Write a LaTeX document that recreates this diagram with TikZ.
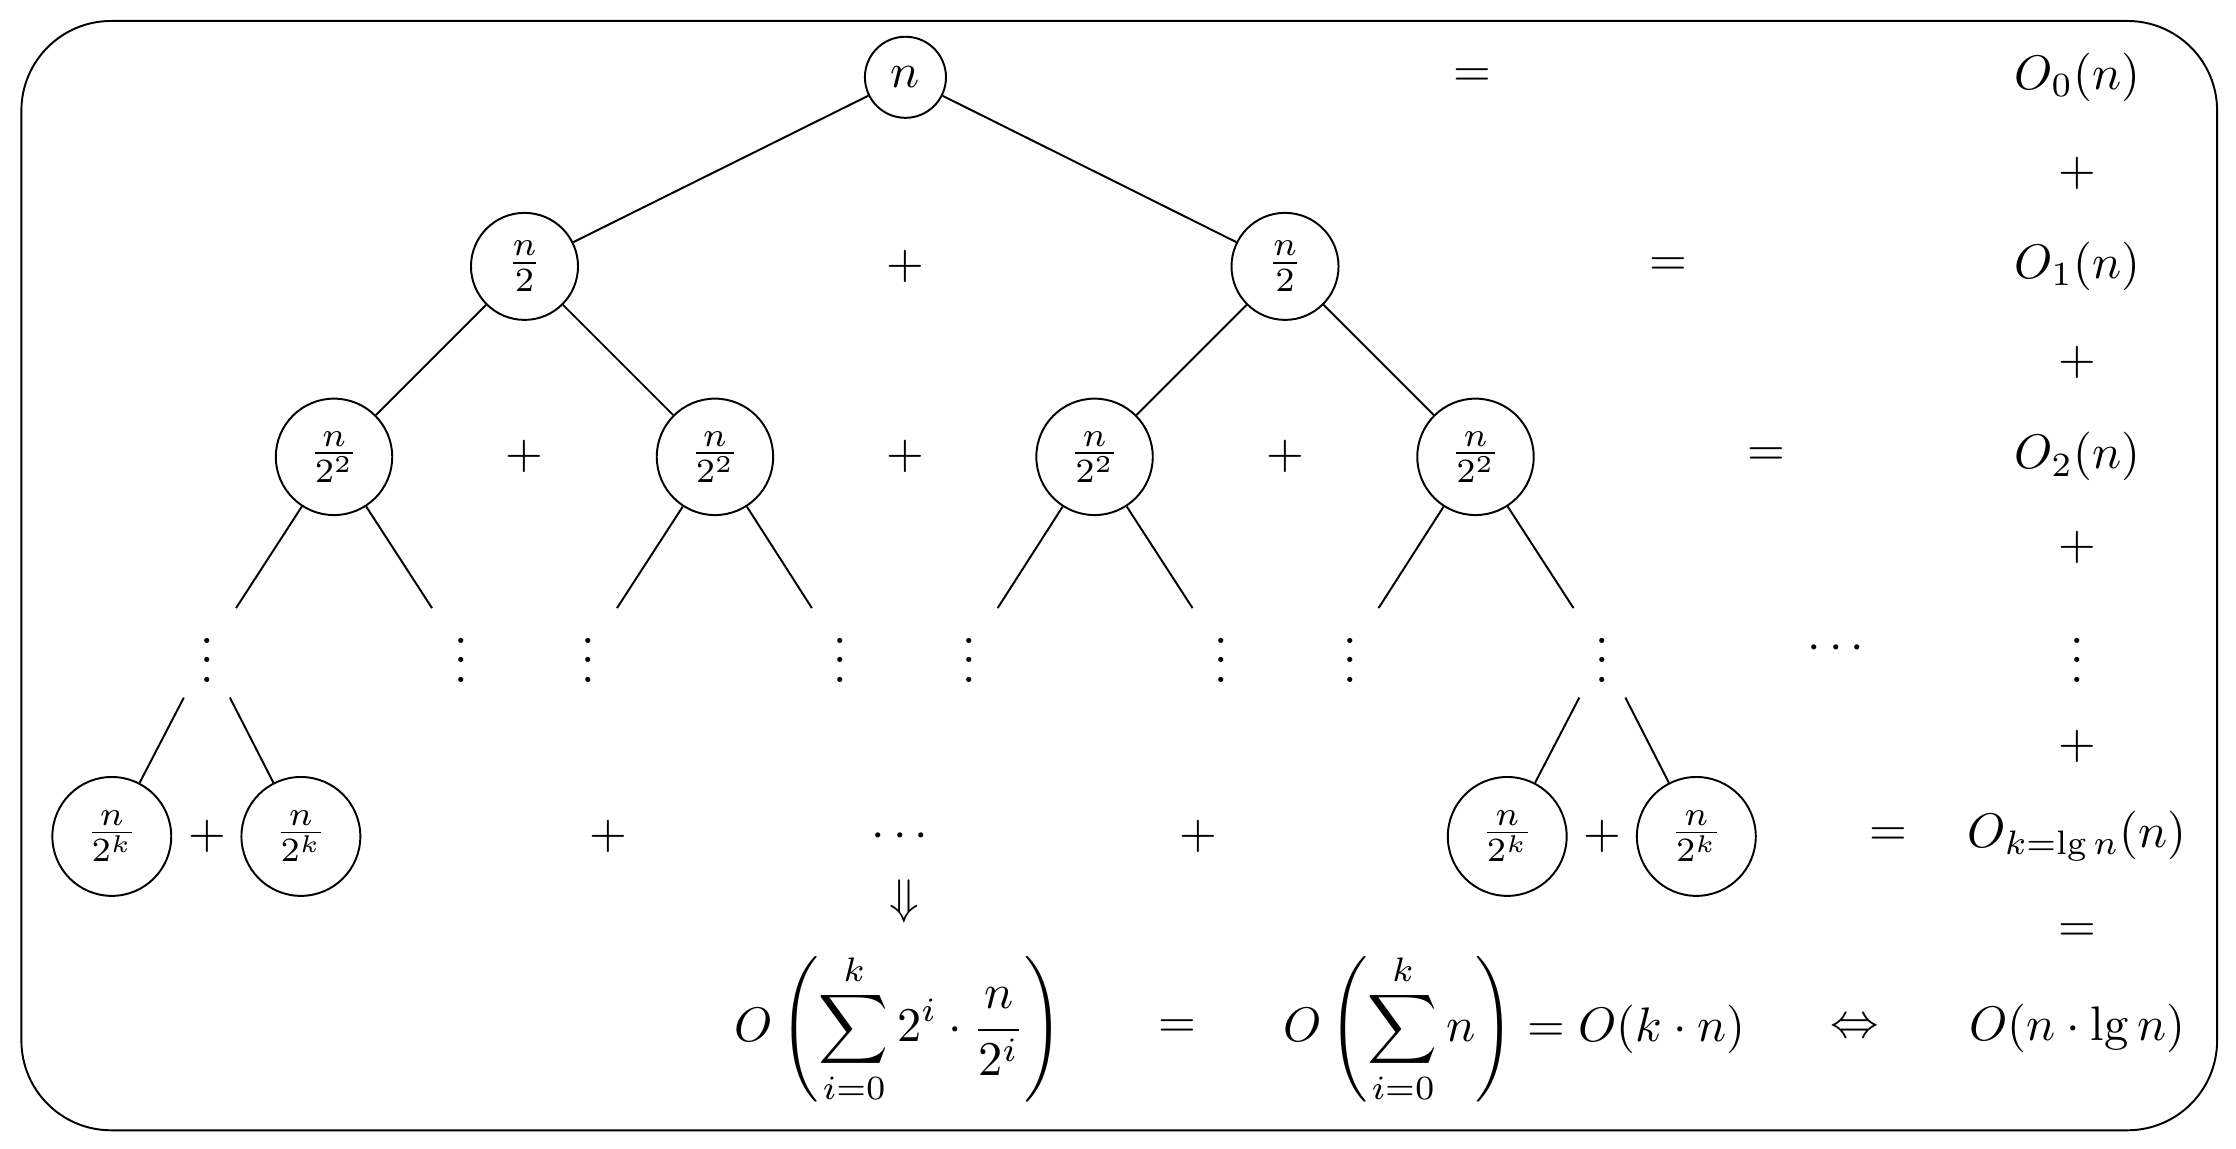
\documentclass[tikz,border=0pt]{standalone}
\usepackage{amsmath, amssymb}
\usepackage{tikz}
\usetikzlibrary{positioning, arrows, calc}

\begin{document}
\begin{tikzpicture}[
    circ/.style={circle, draw},
    vdot/.style={inner sep=0pt, minimum width=0.5cm, minimum height=0.62cm, text depth=3pt},
    sym/.style={inner sep=0pt}]
\useasboundingbox (0,0) rectangle (16.2, -8.32);
\draw[rounded corners=0.65cm] (0.155, -0.152) rectangle (16.063, -8.189);

\node[circ] (r) at (6.56, -0.56) {$n$};
\node[circ] (a) at (3.80, -1.93) {$\frac{n}{2}$};
\node[circ] (b) at (9.31, -1.93) {$\frac{n}{2}$};

\foreach \x/\m in {2.42/aa, 5.18/ab, 7.93/ba, 10.69/bb}
    \node[circ] (\m) at (\x, -3.31) {$\frac{n}{2^2}$};

\foreach \x/\m in {
    1.50/d1, 3.34/d2, 4.26/d3, 6.09/d4,
    7.02/d5, 8.85/d6, 9.78/d7, 11.61/d8}
    \node[vdot] (\m) at (\x, -4.73) {$\vdots$};

\foreach \x/\m in {0.81/k1, 2.18/k2, 10.92/k3, 12.29/k4}
    \node[circ] (\m) at (\x, -6.06) {$\frac{n}{2^k}$};

\foreach \p/\c in {
    r/a, r/b, a/aa, a/ab, b/ba, b/bb,
    aa/d1, aa/d2, ab/d3, ab/d4, ba/d5, ba/d6, bb/d7, bb/d8,
    d1/k1, d1/k2, d8/k3, d8/k4}
    \draw (\p) -- (\c);

\foreach \x/\y [count=\i] in {
    6.56/-1.93, 3.80/-3.31, 6.56/-3.31, 9.31/-3.31,
    1.50/-6.06, 4.41/-6.06, 8.68/-6.06, 11.61/-6.06,
    15.05/-1.256, 15.05/-2.628, 15.05/-3.968, 15.05/-5.404}
    \node[sym] (p\i) at (\x, \y) {$+$};

\foreach \x/\y [count=\i] in {
    10.67/-0.56, 12.09/-1.93, 12.80/-3.31,
    13.68/-6.06, 15.05/-6.758, 8.53/-7.45}
    \node[sym] (e\i) at (\x, \y) {$=$};

\node[sym] (o0) at (15.05, -0.56) {$O_0(n)$};
\node[sym] (o1) at (15.05, -1.93) {$O_1(n)$};
\node[sym] (o2) at (15.05, -3.31) {$O_2(n)$};
\node[vdot] (ov) at (15.05, -4.73) {$\vdots$};
\node[sym] (ok) at (15.05, -6.06) {$O_{k=\lg n}(n)$};
\node[sym] (res) at (15.05, -7.45) {$O(n\cdot\lg n)$};

\node[sym] (c1) at (13.33, -4.70) {$\cdots$};
\node[sym] (c2) at (6.55, -6.06) {$\cdots$};
\node[sym] (imp) at (6.55, -6.53) {$\Downarrow$};
\node[sym] (iff) at (13.44, -7.45) {$\Leftrightarrow$};

\node[sym] (suma) at (6.51, -7.45)
    {$\displaystyle O\left(\sum_{i=0}^{k} 2^i\cdot\frac{n}{2^i}\right)$};
\node[sym] (sumb) at (10.97, -7.45)
    {$\displaystyle O\left(\sum_{i=0}^{k} n\right) = O(k\cdot n)$};

\end{tikzpicture}
\end{document}
